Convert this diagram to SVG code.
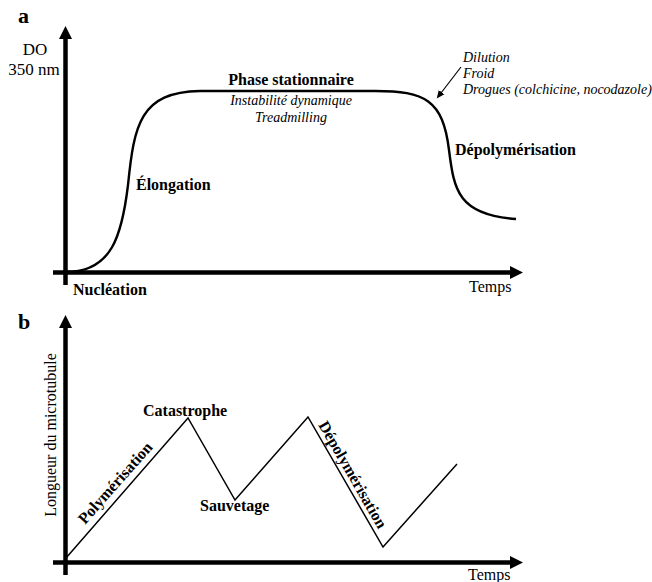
<svg xmlns="http://www.w3.org/2000/svg" width="652" height="582" viewBox="0 0 652 582" font-family="'Liberation Serif', 'Times New Roman', 'DejaVu Serif', serif">
<style>
  text { font-family: 'Liberation Serif', 'Times New Roman', 'DejaVu Serif', serif; fill: #000; }
  .b { font-weight: bold; font-size: 16px; }
  .n { font-size: 16px; }
  .i { font-style: italic; font-size: 14px; }
  .panel { font-weight: bold; font-size: 22px; }
  .axis { stroke: #000; stroke-width: 4.5; fill: none; }
  .curve { stroke: #000; stroke-width: 2.4; fill: none; }
  .zig { stroke: #000; stroke-width: 1.5; fill: none; stroke-linejoin: miter; }
  .thin { stroke: #000; stroke-width: 1.2; fill: none; }
</style>
<defs>
  <marker id="axisHead" markerUnits="userSpaceOnUse" markerWidth="14" markerHeight="14" refX="0" refY="7" orient="auto">
    <path d="M0,0.5 L13,7 L0,13.5 z" fill="#000"/>
  </marker>
  <marker id="smallHead" markerUnits="userSpaceOnUse" markerWidth="9" markerHeight="8" refX="1" refY="4" orient="auto">
    <path d="M0,0.5 L8,4 L0,7.5 z" fill="#000"/>
  </marker>
</defs>

<!-- Panel a -->
<g id="panel-a">
  <text class="panel" x="18" y="23">a</text>
  <g id="axes-a">
    <line class="axis" x1="65.5" y1="285" x2="65.5" y2="39" marker-end="url(#axisHead)"/>
    <line class="axis" x1="53" y1="272.5" x2="510" y2="272.5" marker-end="url(#axisHead)"/>
  </g>
  <g id="ylabel-a">
    <text class="n" x="35" y="55" text-anchor="middle" style="font-size:17px">DO</text>
    <text class="n" x="34" y="75" text-anchor="middle" style="font-size:17px">350 nm</text>
  </g>
  <g id="curve-a">
    <path class="curve" d="M66,272 C112,272 122,235 128,185 C134,125 140,92 200,91 L375,91 C425,91 443,100 449,150 C454,190 458,215 516,219"/>
  </g>
  <g id="label-phase">
    <text class="b" x="291" y="85" text-anchor="middle">Phase stationnaire</text>
    <text class="i" x="291" y="105" text-anchor="middle">Instabilité dynamique</text>
    <text class="i" x="291" y="122" text-anchor="middle">Treadmilling</text>
  </g>
  <g id="label-causes">
    <text class="i" x="463" y="62">Dilution</text>
    <text class="i" x="463" y="78">Froid</text>
    <text class="i" x="463" y="94">Drogues (colchicine, nocodazole)</text>
  </g>
  <g id="label-elongation"><text class="b" x="136" y="190">Élongation</text></g>
  <g id="label-depoly-a"><text class="b" x="455" y="155">Dépolymérisation</text></g>
  <g id="label-nucleation"><text class="b" x="73" y="295">Nucléation</text></g>
  <g id="label-temps-a"><text class="n" x="469" y="292">Temps</text></g>
</g>

<g id="connectors">
  <line class="thin" x1="461" y1="67" x2="441" y2="93" marker-end="url(#smallHead)"/>
</g>

<!-- Panel b -->
<g id="panel-b">
  <text class="panel" x="18" y="329">b</text>
  <g id="axes-b">
    <line class="axis" x1="65.5" y1="575" x2="65.5" y2="328" marker-end="url(#axisHead)"/>
    <line class="axis" x1="53" y1="562.5" x2="510" y2="562.5" marker-end="url(#axisHead)"/>
  </g>
  <g id="ylabel-b">
    <text class="n" transform="translate(56,435) rotate(-90)" text-anchor="middle">Longueur du microtubule</text>
  </g>
  <g id="zigzag-b">
    <polyline class="zig" points="66,558 188,418 235,500 308,417 383,547 457,464"/>
  </g>
  <g id="label-catastrophe"><text class="b" x="143" y="416">Catastrophe</text></g>
  <g id="label-sauvetage"><text class="b" x="200" y="511">Sauvetage</text></g>
  <g id="label-poly"><text class="b" transform="translate(85,525) rotate(-48.5)">Polymérisation</text></g>
  <g id="label-depoly-b"><text class="b" transform="translate(318,425) rotate(60)">Dépolymérisation</text></g>
  <g id="label-temps-b"><text class="n" x="468" y="580">Temps</text></g>
</g>
</svg>
